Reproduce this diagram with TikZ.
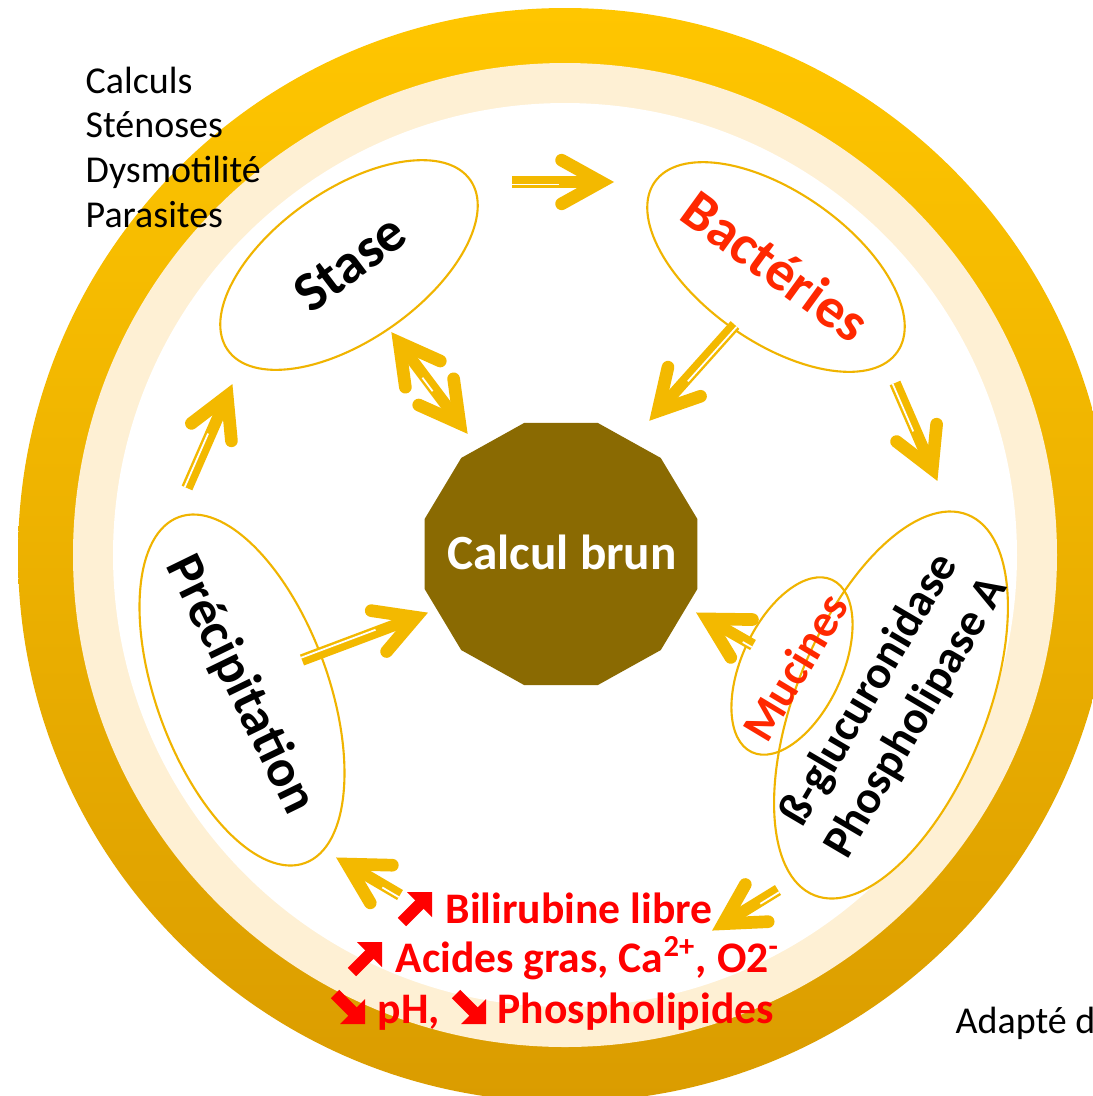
\documentclass[tikz,border=0pt]{standalone}
\usepackage{fontspec}
\setmainfont{Carlito}
\usetikzlibrary{shapes.geometric,calc}
\definecolor{ringtop}{RGB}{255,198,0}
\definecolor{ringbot}{RGB}{218,156,0}
\definecolor{cream}{RGB}{254,240,212}
\definecolor{ellc}{RGB}{240,180,0}
\definecolor{arrc}{RGB}{243,185,0}
\definecolor{brun}{RGB}{138,106,2}
\definecolor{redt}{RGB}{255,0,0}
\definecolor{redo}{RGB}{255,40,0}
\tikzset{
  ell/.style={ellipse, draw=ellc, line width=0.6pt, fill=white, inner sep=0pt},
  ellnofill/.style={ellipse, draw=ellc, line width=0.6pt, inner sep=0pt},
  yshaft/.style={draw=arrc, line width=3.3pt},
  ystripe/.style={draw=white, line width=0.5pt},
  yhead/.style={draw=arrc, line width=3.6pt, line cap=round, line join=miter},
  bigtxt/.style={font=\fontsize{16}{19}\selectfont\bfseries, inner sep=0pt},
  midtxt/.style={font=\fontsize{13.1}{15.6}\selectfont\bfseries, inner sep=0pt, align=center},
  redline/.style={font=\fontsize{12.4}{15}\selectfont\bfseries, text=redt, inner sep=0pt},
  plain/.style={font=\fontsize{10.8}{12.5}\selectfont, inner sep=0pt},
  upicon/.pic={
    \fill[redt] (16,-16) -- (-9,-16) -- (16,9) -- cycle;
    \fill[redt] (-9.8,18.2) -- (8.2,0.2) -- (-0.2,-8.2) -- (-18.2,9.8) -- cycle;
  }
}
% #1 start, #2 tip, #3 side angle of the thin line
\newcommand{\drawyarrow}[3]{%
  \coordinate (hv) at ($(#2)!0.12cm!(#1)$);
  \coordinate (ya) at ($(hv)!0.42cm!(#1)$);
  \draw[yshaft] (#1) -- (hv);
  \draw[ystripe] ($(#1)!0.7pt!#3:(hv)$) -- ($(ya)!0.7pt!#3:(hv)$);
  \draw[yhead] ($(hv)!0.45cm!29:(#1)$) -- (hv) -- ($(hv)!0.45cm!-29:(#1)$);
}
\newcommand{\drawdarrow}[3]{%
  \coordinate (hva) at ($(#1)!0.12cm!(#2)$);
  \coordinate (hvb) at ($(#2)!0.12cm!(#1)$);
  \coordinate (yaa) at ($(hva)!0.42cm!(hvb)$);
  \coordinate (yab) at ($(hvb)!0.42cm!(hva)$);
  \draw[yshaft] (hva) -- (hvb);
  \draw[ystripe] ($(yaa)!0.7pt!#3:(hvb)$) -- ($(yab)!0.7pt!#3:(hvb)$);
  \draw[yhead] ($(hva)!0.45cm!29:(hvb)$) -- (hva) -- ($(hva)!0.45cm!-29:(hvb)$);
  \draw[yhead] ($(hvb)!0.45cm!29:(hva)$) -- (hvb) -- ($(hvb)!0.45cm!-29:(hva)$);
}
\begin{document}
\begin{tikzpicture}[x=0.01cm,y=-0.01cm]
\useasboundingbox (0,0) rectangle (1093,1096);
\clip (0,0) rectangle (1093,1096);
% ring
\coordinate (C) at (565,555);
\shade[top color=ringtop, bottom color=ringbot] (C) circle[radius=547];
\fill[cream] (C) circle[radius=492];
\fill[white] (C) circle[radius=452];

% ellipses
\node[ell, minimum width=2.96cm, minimum height=1.5cm, rotate=35] (stase) at (349,265) {};
\node[ell, minimum width=2.96cm, minimum height=1.5cm, rotate=-35] (bact) at (776,267) {};
\node[ell, minimum width=3.68cm, minimum height=1.72cm, rotate=-70] (precip) at (242,690) {};
\node[ell, minimum width=4.1cm, minimum height=1.9cm, rotate=68] (gluc) at (891,705) {};
\node[ellnofill, minimum width=1.9cm, minimum height=1.0cm, rotate=65] (muc) at (792,666) {};

% central stone
\node[regular polygon, regular polygon sides=12, fill=brun, minimum size=2.82cm, inner sep=0pt, yscale=0.963, transform shape] (calc) at (561,554) {};
\node[font=\fontsize{14}{17}\selectfont\bfseries, text=white, inner sep=0pt] (calctxt) at (562,552) {Calcul brun};

% texts in ellipses
\node[bigtxt, rotate=37] (stasetxt) at (350,263) {Stase};
\node[bigtxt, rotate=-36, text=redo] (bacttxt) at (776,266) {Bactéries};
\node[bigtxt, font=\fontsize{15}{18}\selectfont\bfseries, rotate=-64] (preciptxt) at (240,685) {Précipitation};
\node[midtxt, rotate=59.5] (gluctxt) at (893,704) {ß-glucuronidase\\Phospholipase A};
\node[midtxt, rotate=59, text=redo] (muctxt) at (795,667) {Mucines};

% arrow end points
\coordinate (a1s) at (512,182); \coordinate (a1t) at (613,182);
\coordinate (a2s) at (735,325); \coordinate (a2t) at (650,420);
\coordinate (a3s) at (895,383); \coordinate (a3t) at (937,480);
\coordinate (a4s) at (753,645); \coordinate (a4t) at (697,613);
\coordinate (a5s) at (778,890); \coordinate (a5t) at (713,930);
\coordinate (a6s) at (400,895); \coordinate (a6t) at (337,858);
\coordinate (a7s) at (187,488); \coordinate (a7t) at (232,385);
\coordinate (a8s) at (392,333); \coordinate (a8t) at (467,433);
\coordinate (a9s) at (302,660); \coordinate (a9t) at (427,613);

\drawyarrow{a1s}{a1t}{-90}
\drawyarrow{a2s}{a2t}{90}
\drawyarrow{a3s}{a3t}{-90}
\drawyarrow{a4s}{a4t}{90}
\drawyarrow{a5s}{a5t}{90}
\drawyarrow{a6s}{a6t}{90}
\drawyarrow{a7s}{a7t}{90}
\drawdarrow{a8s}{a8t}{-90}
\drawyarrow{a9s}{a9t}{90}

% side list
\node[plain, anchor=base west] (l1) at (85,93) {Calculs};
\node[plain, anchor=base west] (l2) at (85,137) {Sténoses};
\node[plain, anchor=base west] (l3) at (85,182) {Dysmotilité};
\node[plain, anchor=base west] (l4) at (85,227) {Parasites};
\node[plain, anchor=base west] (adapt) at (955,1033) {Adapté d};

% bottom red lines
\node[redline, anchor=base west] (b1) at (445,923) {Bilirubine libre};
\node[redline, anchor=base west] (b2) at (395,972) {Acides gras, Ca\textsuperscript{2+}, O2\textsuperscript{-}};
\node[redline, anchor=base west] (b3a) at (377,1023) {pH,};
\node[redline, anchor=base west] (b3b) at (497,1023) {Phospholipides};
\pic at (416,908) {upicon};
\pic at (366,958) {upicon};
\pic[yscale=-1] at (349,1008) {upicon};
\pic[yscale=-1] at (470,1008) {upicon};
\end{tikzpicture}
\end{document}
